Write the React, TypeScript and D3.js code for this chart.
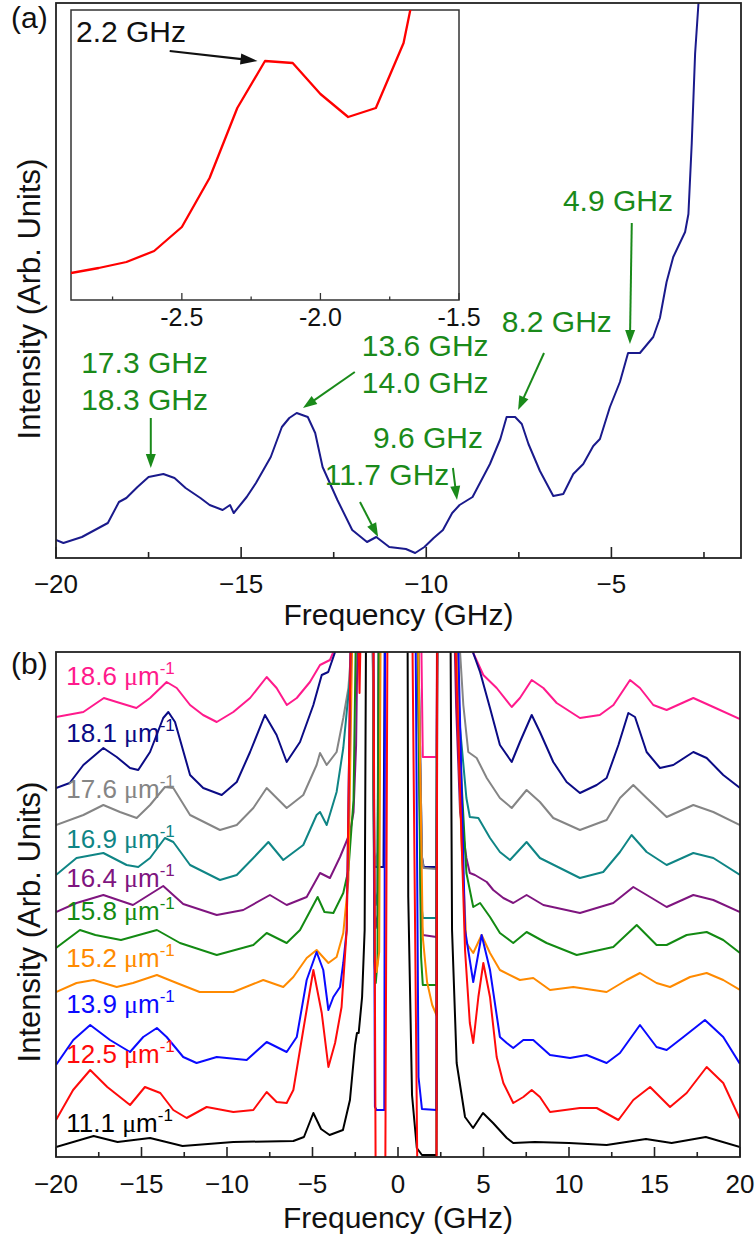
import React from "react";
import * as d3 from "d3";

const FONT = "'Liberation Sans', Arial, Helvetica, sans-serif";

// ---------------- Panel (a): main spectrum ----------------
const panelAFreq = [
  -20, -19.8, -19.3, -18.9, -18.6, -18.3, -18.1, -17.8, -17.5, -17.1,
  -16.8, -16.5, -16.1, -15.85, -15.5, -15.3, -15.2, -14.85, -14.6, -14.2,
  -13.9, -13.7, -13.5, -13.2, -13.0, -12.8, -12.4, -12.0, -11.6, -11.35,
  -11.0, -10.55, -10.3, -10.05, -9.8, -9.55, -9.3, -9.1, -8.75, -8.28,
  -8.0, -7.83, -7.6, -7.42, -7.24, -6.93, -6.57, -6.3, -6.03, -5.76,
  -5.49, -5.31, -5.04, -4.77, -4.55, -4.23, -3.87, -3.69, -3.51, -3.33,
  -3.01, -2.92, -2.83, -2.74, -2.65, -2.5,
];
const panelAIntensity = [
  1.8, 1.5, 2.1, 2.9, 3.5, 5.6, 6.0, 7.1, 8.1, 8.4,
  8.0, 7.0, 6.0, 5.3, 4.8, 5.3, 4.5, 6.1, 7.5, 10.1,
  13.1, 14.0, 14.5, 14.1, 12.5, 9.1, 5.8, 2.8, 1.6, 2.1,
  1.1, 0.9, 0.5, 1.1, 2.0, 2.8, 4.5, 5.3, 6.1, 9.4,
  11.9, 14.1, 14.1, 13.4, 11.4, 8.7, 6.2, 6.4, 8.4, 9.4,
  11.2, 11.9, 15.1, 17.6, 20.5, 20.5, 22.1, 24.0, 27.6, 30.1,
  32.6, 34.4, 41.5, 50.4, 55.4, 70,
];
const panelATicksMajor = [-20, -15, -10, -5];
const panelATicksMinor = [-17.5, -12.5, -7.5, -2.5];

// ---------------- Inset ----------------
const insetFreq = [-2.9, -2.8, -2.7, -2.6, -2.5, -2.4, -2.3, -2.2, -2.1, -2.0, -1.9, -1.8, -1.7, -1.6];
const insetIntensity = [2.7, 3.2, 3.8, 4.9, 7.3, 12.2, 19.2, 23.9, 23.7, 20.6, 18.3, 19.2, 25.7, 39.3];
const insetTicksMajor = [-2.5, -2.0, -1.5];
const insetTicksMinor = [-2.75, -2.25, -1.75];
const insetTickLabels = ["-2.5", "-2.0", "-1.5"];

// Peak annotations (panel a) in data units: text lines at [freq, intensity]
const peakTexts: { text: string; f: number; v: number }[] = [
  { text: "17.3 GHz", f: -19.32, v: 18.5 },
  { text: "18.3 GHz", f: -19.32, v: 14.8 },
  { text: "13.6 GHz", f: -11.74, v: 20.2 },
  { text: "14.0 GHz", f: -11.74, v: 16.5 },
  { text: "9.6 GHz", f: -11.44, v: 11.0 },
  { text: "11.7 GHz", f: -12.74, v: 7.3 },
  { text: "8.2 GHz", f: -7.96, v: 22.6 },
  { text: "4.9 GHz", f: -6.31, v: 34.7 },
];
const peakArrows: [number, number, number, number][] = [
  [-17.44, 14.0, -17.44, 9.0],
  [-11.93, 18.6, -13.33, 15.0],
  [-11.79, 5.6, -11.3, 2.1],
  [-9.28, 9.0, -9.17, 5.8],
  [-6.82, 20.5, -7.52, 14.8],
  [-4.45, 33.5, -4.5, 21.4],
];

// ---------------- Panel (b): spectra at different wavevectors ----------------
const trace186: [number, number][] = [
  [-20, 44.0], [-18.4, 44.5], [-17.2, 45.9], [-16.45, 45.5], [-15.3, 44.9], [-14.5, 45.9], [-13.53, 47.5], [-12.94, 46.9],
  [-12.16, 45.2], [-11.4, 44.2], [-10.6, 43.5], [-9.63, 44.5], [-8.65, 45.9], [-7.68, 48.0], [-7.1, 46.9], [-6.5, 45.2],
  [-5.92, 45.9], [-5.15, 47.5], [-4.56, 49.2], [-3.98, 49.7], [-3.78, 50.5], [-3.5, 60],
  [1.3, 60], [1.45, 40.0], [2.25, 40.0], [2.3, 60],
  [4.2, 60], [4.4, 50.4], [4.99, 48.2], [5.77, 46.9], [6.65, 45.0], [7.13, 45.9], [7.82, 47.7], [8.5, 46.9], [9.28, 45.4],
  [10.64, 43.9], [11.8, 44.2], [12.6, 45.2], [13.57, 47.7], [14.15, 46.9], [14.93, 45.2], [15.71, 44.7], [17.27, 45.9],
  [18.44, 45.0], [20, 43.8],
];
const trace181: [number, number][] = [
  [-20, 36.9], [-19.2, 37.4], [-18.4, 39.2], [-17.23, 40.9], [-16.45, 40.0], [-15.67, 38.9], [-15.19, 38.7], [-14.5, 40.5],
  [-13.73, 43.9], [-13.43, 44.5], [-13.04, 43.5], [-12.16, 38.2], [-11.39, 36.9], [-10.31, 36.2], [-9.43, 37.5], [-8.65, 40.5],
  [-7.78, 44.2], [-7.1, 42.2], [-6.51, 39.5], [-5.73, 41.5], [-4.95, 45.2], [-4.46, 48.2], [-4.08, 48.5], [-3.68, 50.5], [-3.4, 60],
  [-1.5, 60], [-1.4, 30], [-1.3, 29.0], [-0.85, 29.0], [-0.75, 60],
  [1.1, 60], [1.4, 30], [1.5, 29.0], [2.25, 29.0], [2.3, 60],
  [4.2, 60], [4.4, 50.4], [4.8, 48.5], [5.38, 44.9], [5.96, 41.2], [6.65, 39.5], [7.13, 41.5], [7.82, 44.2], [8.3, 42.5],
  [9.08, 39.5], [9.86, 37.5], [10.64, 36.4], [11.62, 37.2], [12.2, 37.9], [12.89, 41.2], [13.47, 44.4], [13.86, 44.0],
  [14.54, 40.5], [15.32, 38.9], [16.1, 39.2], [17.27, 40.5], [18.05, 39.9], [19.02, 38.2], [20, 36.9],
];
const trace176: [number, number][] = [
  [-20, 33.2], [-18.4, 34.2], [-17.23, 35.2], [-16.26, 34.5], [-15.28, 33.9], [-14.5, 35.2], [-13.63, 37.0], [-13.14, 36.9],
  [-12.16, 34.2], [-10.41, 32.7], [-9.43, 33.2], [-8.46, 34.9], [-7.68, 36.9], [-6.51, 34.9], [-5.54, 36.2], [-4.76, 39.2],
  [-4.56, 40.4], [-4.17, 39.2], [-3.59, 40.5], [-3.2, 43.9], [-2.9, 46.9], [-2.8, 49.2], [-2.6, 60],
  [-1.5, 60], [-1.38, 30.5], [-1.3, 29.2], [-1.2, 30.5], [-1.1, 60],
  [1.1, 60], [1.4, 30], [1.5, 28.9], [2.25, 28.8], [2.3, 60],
  [3.4, 60], [3.63, 50.5], [3.82, 45.2], [4.11, 40.5], [4.6, 39.9], [5.19, 37.9], [5.96, 35.9], [6.65, 34.9], [7.52, 36.7],
  [8.3, 35.5], [9.08, 33.9], [10.64, 32.7], [12.2, 33.7], [12.98, 35.9], [13.76, 37.2], [14.54, 35.9], [15.71, 34.0],
  [17.27, 35.2], [18.44, 34.5], [20, 33.2],
];
const trace169: [number, number][] = [
  [-20, 28.2], [-18.8, 29.9], [-17.23, 30.4], [-15.87, 29.2], [-15.19, 29.0], [-14.5, 29.9], [-13.63, 31.9], [-13.14, 31.5],
  [-12.16, 29.2], [-10.41, 27.7], [-9.43, 28.2], [-8.46, 29.9], [-7.58, 31.5], [-6.71, 29.7], [-5.54, 31.2], [-4.76, 34.2],
  [-4.56, 34.5], [-4.17, 33.2], [-3.59, 36.5], [-3.2, 40.9], [-3.0, 44.5], [-2.75, 48.7], [-2.55, 60],
  [-1.5, 60], [-1.38, 26.5], [-1.3, 25.2], [-1.2, 26.5], [-1.1, 60],
  [1.1, 60], [1.35, 25.5], [1.45, 23.9], [2.25, 23.9], [2.3, 60],
  [3.25, 60], [3.43, 49.9], [3.63, 42.9], [4.0, 35.9], [4.2, 34.0], [4.7, 33.9], [5.38, 31.9], [5.96, 30.5], [6.55, 29.7],
  [7.52, 31.5], [8.3, 29.9], [9.47, 28.9], [10.64, 27.9], [12.0, 28.5], [12.98, 30.5], [13.66, 32.2], [14.54, 30.5],
  [15.71, 29.2], [17.27, 30.4], [18.44, 29.9], [20, 28.2],
];
const trace164: [number, number][] = [
  [-20, 24.5], [-18.8, 25.4], [-17.23, 26.2], [-15.5, 25.2], [-13.73, 27.1], [-12.56, 25.3], [-10.6, 24.2], [-9.05, 24.7],
  [-7.49, 26.2], [-6.51, 25.2], [-5.34, 26.0], [-4.56, 28.4], [-3.98, 27.9], [-3.39, 30.0], [-2.81, 32.4], [-2.6, 34.5],
  [-2.45, 41.2], [-2.3, 60],
  [-1.5, 60], [-1.38, 24.2], [-1.3, 22.9], [-1.2, 24.2], [-1.1, 60],
  [1.1, 60], [1.35, 24], [1.45, 22.2], [2.25, 22.0], [2.3, 60],
  [3.2, 60], [3.4, 45], [3.63, 34.5], [4.0, 29.9], [4.2, 28.4], [4.5, 28.2], [5.19, 27.5], [5.57, 26.7], [6.16, 25.9],
  [6.74, 25.4], [7.52, 26.2], [8.5, 25.2], [10.64, 24.4], [12.59, 25.4], [13.76, 27.0], [14.74, 26.0], [15.71, 25.0],
  [17.27, 26.2], [18.44, 25.7], [20, 24.5],
];
const trace158: [number, number][] = [
  [-20, 20.9], [-18.6, 22.7], [-17.7, 22.2], [-16.2, 21.7], [-14.1, 22.7], [-12.75, 21.4], [-10.6, 20.2], [-8.46, 21.2],
  [-7.68, 22.4], [-6.51, 21.4], [-5.73, 22.7], [-4.7, 26.0], [-4.3, 24.5], [-3.78, 24.4], [-3.2, 26.4], [-2.9, 28.7],
  [-2.6, 35.7], [-2.4, 60],
  [-1.5, 60], [-1.38, 19.5], [-1.3, 17.4], [-1.2, 19.5], [-1.1, 60],
  [1.1, 60], [1.35, 20], [1.45, 17.2], [2.25, 17.2], [2.3, 60],
  [3.3, 60], [3.7, 38], [4.0, 28.4], [4.4, 25.0], [4.8, 25.4], [5.38, 24.0], [5.96, 22.4], [6.74, 21.4], [7.52, 22.5],
  [8.69, 21.4], [10.45, 20.2], [12.59, 21.0], [13.96, 23.2], [15.12, 21.2], [15.71, 21.2], [16.88, 22.2], [18.05, 22.5],
  [19.02, 21.7], [20, 20.4],
];
const trace152: [number, number][] = [
  [-20, 16.5], [-18.8, 17.4], [-17.8, 17.7], [-16.45, 17.0], [-15.5, 17.4], [-14.1, 18.2], [-12.94, 17.4], [-11.6, 16.5],
  [-9.63, 16.5], [-7.88, 17.7], [-6.71, 17.0], [-6.12, 18.0], [-5.34, 19.9], [-4.76, 20.7], [-4.07, 19.4], [-3.59, 20.0],
  [-3.2, 22.4], [-2.9, 27.7], [-2.6, 60],
  [-1.5, 60], [-1.35, 20.5], [-1.25, 18.5], [-1.1, 20.5], [-1.0, 60],
  [1.1, 60], [1.45, 22], [1.7, 17.5], [2.0, 15.2], [2.25, 14.2], [2.3, 60],
  [3.3, 60], [3.7, 32], [4.0, 21.4], [4.4, 20.4], [4.89, 22.2], [5.38, 20.4], [5.96, 18.7], [7.13, 17.7], [7.91, 17.9],
  [8.89, 16.7], [10.25, 17.0], [12.2, 16.5], [13.37, 17.7], [14.15, 18.4], [15.12, 17.4], [15.91, 17.0], [17.08, 18.0],
  [18.05, 18.4], [19.02, 17.7], [20, 16.7],
];
const trace139: [number, number][] = [
  [-20, 9.2], [-18.99, 11.7], [-18.0, 13.2], [-16.84, 11.7], [-15.67, 10.5], [-14.9, 12.0], [-14.1, 12.9], [-13.53, 12.0],
  [-12.56, 10.0], [-11.78, 9.4], [-10.6, 10.0], [-8.85, 9.7], [-7.68, 11.5], [-6.51, 10.5], [-5.92, 12.0], [-5.34, 17.7],
  [-4.76, 20.5], [-4.37, 18.7], [-4.07, 14.7], [-3.78, 16.0], [-3.39, 17.0], [-3.2, 19.4], [-3.0, 22.7], [-2.7, 60],
  [-1.45, 60], [-1.35, 5.0], [-1.25, 4.7], [-0.8, 4.7], [-0.75, 60],
  [1.0, 60], [1.2, 8], [1.4, 4.8], [2.25, 4.7], [2.3, 60],
  [3.4, 60], [3.92, 22.7], [4.4, 17.5], [4.89, 22.2], [5.38, 18.7], [5.96, 12.0], [6.36, 11.4], [6.74, 10.9], [7.33, 11.7],
  [7.91, 11.7], [8.89, 10.2], [10.06, 9.9], [11.03, 10.2], [12.2, 9.4], [12.98, 10.4], [14.15, 13.2], [15.12, 11.0],
  [15.71, 10.7], [16.69, 12.0], [17.95, 13.7], [19.02, 12.0], [20, 9.3],
];
const trace125: [number, number][] = [
  [-20, 3.7], [-19.0, 6.7], [-18.0, 8.7], [-17.0, 7.0], [-15.67, 5.2], [-14.8, 7.0], [-13.9, 6.4], [-13.14, 4.7],
  [-12.36, 3.9], [-11.19, 5.0], [-9.63, 4.5], [-8.46, 4.7], [-7.68, 6.5], [-7.1, 5.5], [-6.51, 5.4], [-6.12, 6.7],
  [-5.54, 12.7], [-4.95, 18.7], [-4.46, 14.4], [-4.07, 9.0], [-3.68, 11.4], [-3.3, 15.0], [-3.0, 22.7], [-2.7, 60],
  [-2.4, 60], [-2.25, 46.4], [-2.1, 60],
  [-1.45, 60], [-1.3, -5], [-0.75, -5], [-0.6, 60],
  [0.8, 60], [1.15, -5], [2.25, -5], [2.3, 60],
  [3.2, 60], [3.92, 20.7], [4.2, 13.4], [4.4, 11.4], [4.7, 16.0], [4.99, 19.4], [5.38, 16.0], [5.77, 10.0], [6.16, 7.4],
  [6.74, 5.4], [7.33, 6.0], [7.82, 6.7], [8.3, 6.0], [8.89, 4.5], [10.64, 4.9], [11.62, 4.9], [12.89, 3.7], [13.76, 5.7],
  [14.74, 7.0], [15.91, 5.0], [16.88, 6.4], [18.05, 9.0], [19.02, 7.4], [20, 3.8],
];
const trace111: [number, number][] = [
  [-20, 1.0], [-17.8, 2.1], [-16.4, 1.5], [-14.5, 1.9], [-12.6, 1.1], [-9.63, 1.5], [-6.12, 1.6], [-5.5, 2.0], [-4.95, 4.4],
  [-4.5, 2.8], [-4.0, 2.2], [-3.22, 2.7], [-2.81, 5.7], [-2.51, 11.2], [-2.4, 12.4], [-2.3, 12.4], [-2.1, 16.0],
  [-1.95, 22.7], [-1.85, 60],
  [0.55, 60], [0.6, 26], [0.82, 6.2], [1.1, 0.9], [1.4, 0.2], [2.25, 0.2], [2.3, 60],
  [3.05, 60], [3.16, 22.7], [3.43, 9.4], [3.92, 4.0], [4.39, 2.9], [4.97, 4.4], [5.56, 3.4], [6.36, 1.9], [6.74, 1.4],
  [8.0, 1.5], [10.0, 1.4], [12.2, 1.2], [14.5, 1.8], [16.0, 1.4], [18.0, 2.0], [20, 1.0],
];

const traceLabels = ["18.6", "18.1", "17.6", "16.9", "16.4", "15.8", "15.2", "13.9", "12.5", "11.1"];
const traceColors = ["#ff1a8c", "#0b0b85", "#858585", "#0f8585", "#7f157f", "#138a13", "#ff8a00", "#0a0aff", "#ff0a0a", "#000000"];
const traceData = [trace186, trace181, trace176, trace169, trace164, trace158, trace152, trace139, trace125, trace111];
const labelLevels = [47.2, 41.5, 35.9, 30.9, 27.0, 23.7, 19.0, 14.4, 9.4, 2.5];
const drawOrder = [0, 1, 2, 3, 4, 5, 6, 7, 9, 8];

const panelBTicksMajor = [-20, -15, -10, -5, 0, 5, 10, 15, 20];
const panelBTicksMinor = [-17.5, -12.5, -7.5, -2.5, 2.5, 7.5, 12.5, 17.5];

// ---------------- Layout ----------------
const A = { l: 56, r: 741, t: 3, b: 558 };
const IN = { l: 71, r: 459, t: 10, b: 300 };
const B = { l: 56, r: 740, t: 652, b: 1157 };

const xA = d3.scaleLinear().domain([-20, -1.5]).range([A.l, A.r]);
const yA = d3.scaleLinear().domain([0, 55.5]).range([A.b, A.t]);
const xI = d3.scaleLinear().domain([-2.9, -1.5]).range([IN.l, IN.r]);
const yI = d3.scaleLinear().domain([0, 29]).range([IN.b, IN.t]);
const xB = d3.scaleLinear().domain([-20, 20]).range([B.l, B.r]);
const yB = d3.scaleLinear().domain([0, 50.5]).range([B.b, B.t]);

const fmtTick = (t: number) => (t < 0 ? "\u2212" + String(-t) : String(t));

function Arrow({ x1, y1, x2, y2, color, width = 2, head = 14, half = 5 }: any) {
  const dx = x2 - x1, dy = y2 - y1;
  const len = Math.hypot(dx, dy);
  const ux = dx / len, uy = dy / len;
  const bx = x2 - ux * head, by = y2 - uy * head;
  const px = -uy, py = ux;
  return (
    <g>
      <line x1={x1} y1={y1} x2={bx + ux * 1} y2={by + uy * 1} stroke={color} strokeWidth={width} />
      <polygon
        points={`${x2},${y2} ${bx + px * half},${by + py * half} ${bx - px * half},${by - py * half}`}
        fill={color}
      />
    </g>
  );
}

export default function App() {
  const lineA = d3
    .line<number>()
    .x((_, i) => xA(panelAFreq[i]))
    .y((d) => yA(d));
  const lineI = d3
    .line<number>()
    .x((_, i) => xI(insetFreq[i]))
    .y((d) => yI(d));
  const lineB = d3
    .line<[number, number]>()
    .x((d) => xB(d[0]))
    .y((d) => yB(d[1]));

  const green = "#1a8a1a";
  const navyA = "#1a1a8c";

  return (
    <svg
      width={756}
      height={1236}
      style={{ position: "absolute", left: 0, top: 0, background: "#fff" }}
      fontFamily={FONT}
    >
      <defs>
        <clipPath id="clipA">
          <rect x={A.l} y={A.t} width={A.r - A.l} height={A.b - A.t} />
        </clipPath>
        <clipPath id="clipI">
          <rect x={IN.l} y={IN.t} width={IN.r - IN.l} height={IN.b - IN.t} />
        </clipPath>
        <clipPath id="clipB">
          <rect x={B.l} y={B.t} width={B.r - B.l} height={B.b - B.t} />
        </clipPath>
      </defs>
      <rect x={0} y={0} width={756} height={1236} fill="#fff" />

      {/* ---------- Panel (a) ---------- */}
      <path d={lineA(panelAIntensity) || ""} fill="none" stroke={navyA} strokeWidth={2} clipPath="url(#clipA)" strokeLinejoin="round" />

      {/* inset */}
      <rect x={IN.l} y={IN.t} width={IN.r - IN.l} height={IN.b - IN.t} fill="#fff" stroke="#333" strokeWidth={1.5} />
      <path d={lineI(insetIntensity) || ""} fill="none" stroke="#ff0000" strokeWidth={2.3} clipPath="url(#clipI)" strokeLinejoin="round" />
      {insetTicksMajor.map((t) => (
        <line key={"im" + t} x1={xI(t)} x2={xI(t)} y1={IN.b} y2={IN.b - 7} stroke="#333" strokeWidth={1.3} />
      ))}
      {insetTicksMinor.map((t) => (
        <line key={"in" + t} x1={xI(t)} x2={xI(t)} y1={IN.b} y2={IN.b - 3.5} stroke="#333" strokeWidth={1.3} />
      ))}
      {insetTicksMajor.map((t, i) => (
        <text key={"il" + t} x={xI(t)} y={IN.b + 26} textAnchor="middle" fontSize={25} fill="#111">
          {insetTickLabels[i]}
        </text>
      ))}
      <text x={xI(-2.882)} y={yI(25.8)} fontSize={30} fill="#111">2.2 GHz</text>
      <Arrow x1={xI(-2.544)} y1={yI(24.9)} x2={xI(-2.227)} y2={yI(23.9)} color="#111" width={2.2} head={17} half={5.5} />

      {/* annotations */}
      {peakTexts.map((p) => (
        <text key={p.text} x={xA(p.f)} y={yA(p.v)} fontSize={30} fill={green}>
          {p.text}
        </text>
      ))}
      {peakArrows.map((a, i) => (
        <Arrow key={"pa" + i} x1={xA(a[0])} y1={yA(a[1])} x2={xA(a[2])} y2={yA(a[3])} color={green} width={2} head={14} half={5} />
      ))}

      {/* frame & axis */}
      <rect x={A.l} y={A.t} width={A.r - A.l} height={A.b - A.t} fill="none" stroke="#222" strokeWidth={1.8} />
      {panelATicksMajor.map((t) => (
        <line key={"am" + t} x1={xA(t)} x2={xA(t)} y1={A.b} y2={A.b - 11} stroke="#222" strokeWidth={1.6} />
      ))}
      {panelATicksMinor.map((t) => (
        <line key={"an" + t} x1={xA(t)} x2={xA(t)} y1={A.b} y2={A.b - 6} stroke="#222" strokeWidth={1.6} />
      ))}
      {panelATicksMajor.map((t) => (
        <text key={"al" + t} x={xA(t)} y={A.b + 35} textAnchor="middle" fontSize={26} fill="#111">
          {fmtTick(t)}
        </text>
      ))}
      <text x={(A.l + A.r) / 2} y={A.b + 67} textAnchor="middle" fontSize={30} fill="#111">
        Frequency (GHz)
      </text>
      <text transform={`translate(40, 299) rotate(-90)`} textAnchor="middle" fontSize={31} fill="#111">
        Intensity (Arb. Units)
      </text>
      <text x={11} y={28} fontSize={30} fill="#111">(a)</text>

      {/* ---------- Panel (b) ---------- */}
      <g clipPath="url(#clipB)">
        {drawOrder.map((i) => (
          <path
            key={"tr" + i}
            d={lineB(traceData[i]) || ""}
            fill="none"
            stroke={traceColors[i]}
            strokeWidth={2}
            strokeLinejoin="round"
          />
        ))}
      </g>
      {traceLabels.map((lab, i) => (
        <text key={"lb" + lab} x={xB(-19.4)} y={yB(labelLevels[i])} fontSize={26} fill={traceColors[i]}>
          {lab + " "}
          <tspan fontFamily="'Liberation Serif', 'Times New Roman', serif">μ</tspan>
          <tspan>m</tspan>
          <tspan dy={-11} fontSize={17}>-1</tspan>
        </text>
      ))}
      <rect x={B.l} y={B.t} width={B.r - B.l} height={B.b - B.t} fill="none" stroke="#222" strokeWidth={1.8} />
      {panelBTicksMajor.map((t) => (
        <line key={"bm" + t} x1={xB(t)} x2={xB(t)} y1={B.b} y2={B.b - 10} stroke="#222" strokeWidth={1.6} />
      ))}
      {panelBTicksMinor.map((t) => (
        <line key={"bn" + t} x1={xB(t)} x2={xB(t)} y1={B.b} y2={B.b - 5} stroke="#222" strokeWidth={1.6} />
      ))}
      {panelBTicksMajor.map((t) => (
        <text key={"bl" + t} x={xB(t)} y={B.b + 36} textAnchor="middle" fontSize={26} fill="#111">
          {fmtTick(t)}
        </text>
      ))}
      <text x={(B.l + B.r) / 2} y={B.b + 71} textAnchor="middle" fontSize={30} fill="#111">
        Frequency (GHz)
      </text>
      <text transform={`translate(40, 922) rotate(-90)`} textAnchor="middle" fontSize={31} fill="#111">
        Intensity (Arb. Units)
      </text>
      <text x={11} y={674} fontSize={30} fill="#111">(b)</text>
    </svg>
  );
}
